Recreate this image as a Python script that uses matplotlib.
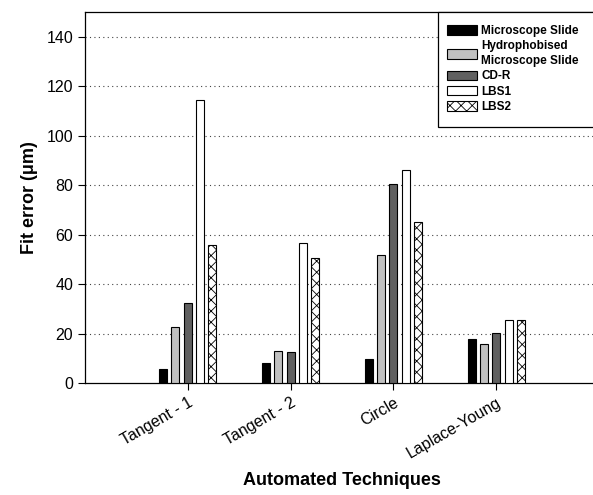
import matplotlib
matplotlib.use("Agg")
import matplotlib.pyplot as plt
from matplotlib.patches import Rectangle
import numpy as np

plt.rcParams['font.family'] = ['Liberation Sans', 'DejaVu Sans']
plt.rcParams['hatch.linewidth'] = 0.6

categories = ["Tangent - 1", "Tangent - 2", "Circle", "Laplace-Young"]
series_names = ["Microscope Slide", "Hydrophobised\nMicroscope Slide", "CD-R", "LBS1", "LBS2"]
microscope = [5.5, 8.2, 9.8, 17.9]
hydrophobised = [22.8, 13.1, 51.7, 15.8]
cdr = [32.5, 12.6, 80.3, 20.1]
lbs1 = [114.6, 56.8, 86.0, 25.5]
lbs2 = [55.7, 50.5, 65.0, 25.5]
yticks = [0, 20, 40, 60, 80, 100, 120, 140]

series = [microscope, hydrophobised, cdr, lbs1, lbs2]
facecolors = ["black", "#c0c0c0", "#606060", "white", "white"]
hatches = [None, None, None, None, "xxx"]

fig = plt.figure(figsize=(5.93, 4.95), dpi=100)
ax = fig.add_axes([85/593, 112/495, 514/593, 371/495])

x = np.arange(1, len(categories) + 1)
pitch = 0.12
width = 0.078
handles = []
for i, (vals, fc, h) in enumerate(zip(series, facecolors, hatches)):
    b = ax.bar(x + (i - 2) * pitch, vals, width=width, color=fc, edgecolor="black",
               linewidth=0.8, hatch=h, label=series_names[i], zorder=3)
    handles.append(b)

ax.set_xlim(0, 5)
ax.set_ylim(0, 150)
ax.set_yticks(yticks)
ax.set_xticks(x)
ax.set_xticklabels(categories, rotation=30, ha="right", rotation_mode="anchor", fontsize=11.5)
ax.tick_params(axis="y", labelsize=11.5, direction="out", length=5)
ax.tick_params(axis="x", direction="out", length=5)
for t in yticks[1:]:
    ax.axhline(t, color="#444444", linestyle=(0, (1, 3)), linewidth=0.8, zorder=1)
ax.spines["right"].set_visible(False)
for s in ["left", "bottom", "top"]:
    ax.spines[s].set_linewidth(0.9)

ax.set_ylabel("Fit error (\u03bcm)", fontsize=13, fontweight="bold", labelpad=6)
ax.set_xlabel("Automated Techniques", fontsize=13, fontweight="bold", labelpad=8)

# legend frame extends beyond the right edge
fig.patches.append(Rectangle((438/593, (495-127)/495), 0.5, 115/495, transform=fig.transFigure,
                             facecolor="white", edgecolor="black", linewidth=0.9, zorder=4))
leg = fig.legend(handles=handles, labels=series_names, loc="upper left",
                 bbox_to_anchor=(447/593, 470/495), bbox_transform=fig.transFigure,
                 frameon=False,
                 prop={"size": 8.5, "weight": "bold"}, handlelength=2.5,
                 handleheight=0.85, labelspacing=0.28, borderpad=0.0, handletextpad=0.4,
                 borderaxespad=0)
leg.set_zorder(5)
for t in leg.get_texts():
    t.set_linespacing(1.3)

fig.savefig("out.png", dpi=100)
